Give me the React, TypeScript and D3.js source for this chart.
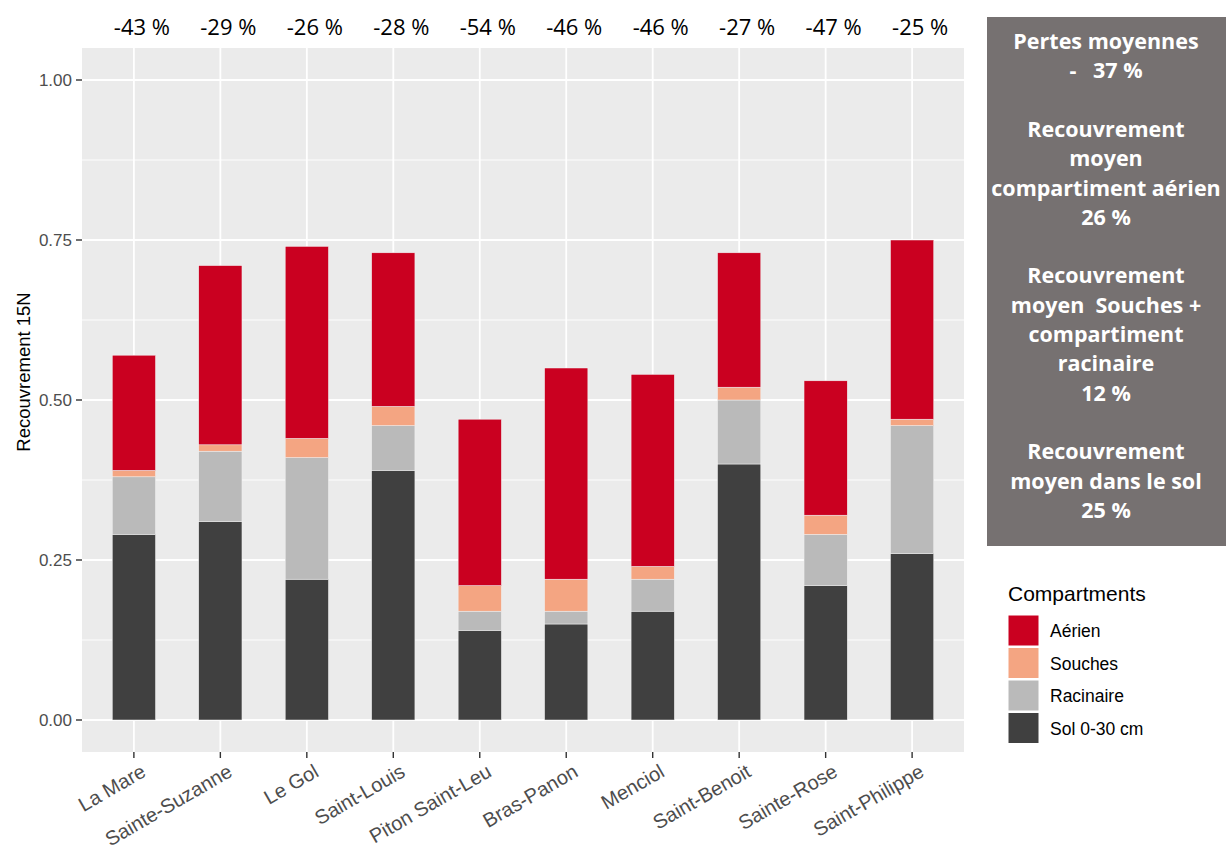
import React from 'react';
import * as d3 from 'd3';

// Sites (x categories)
const sites = [
  'La Mare', 'Sainte-Suzanne', 'Le Gol', 'Saint-Louis', 'Piton Saint-Leu',
  'Bras-Panon', 'Menciol', 'Saint-Benoit', 'Sainte-Rose', 'Saint-Philippe',
];

// Recouvrement 15N per compartment
const sol = [0.29, 0.31, 0.22, 0.39, 0.14, 0.15, 0.17, 0.40, 0.21, 0.26];
const racinaire = [0.09, 0.11, 0.19, 0.07, 0.03, 0.02, 0.05, 0.10, 0.08, 0.20];
const souches = [0.01, 0.01, 0.03, 0.03, 0.04, 0.05, 0.02, 0.02, 0.03, 0.01];
const aerien = [0.18, 0.28, 0.30, 0.24, 0.26, 0.33, 0.30, 0.21, 0.21, 0.28];

// losses printed above each bar (%)
const losses = [-43, -29, -26, -28, -54, -46, -46, -27, -47, -25];

const yTicks = [0, 0.25, 0.5, 0.75, 1];
const yMinor = [0.125, 0.375, 0.625, 0.875];

const keys = ['sol', 'racinaire', 'souches', 'aerien'];
const legendItems = [
  { key: 'aerien', label: 'Aérien' },
  { key: 'souches', label: 'Souches' },
  { key: 'racinaire', label: 'Racinaire' },
  { key: 'sol', label: 'Sol 0-30 cm' },
];
const colors: Record<string, string> = {
  aerien: '#CA0020',
  souches: '#F4A582',
  racinaire: '#BABABA',
  sol: '#404040',
};

// grey summary box
const boxLines = [
  'Pertes moyennes', '-   37 %', '',
  'Recouvrement', 'moyen', 'compartiment aérien', '26 %', '',
  'Recouvrement', 'moyen  Souches +', 'compartiment', 'racinaire', '12 %', '',
  'Recouvrement', 'moyen dans le sol', '25 %',
];

export default function App() {
  const width = 1226;
  const height = 851;
  const panel = { left: 82, right: 964, top: 48, bottom: 752 };

  const rows = sites.map((s, i) => ({
    site: s, sol: sol[i], racinaire: racinaire[i], souches: souches[i], aerien: aerien[i],
  }));
  const series = d3.stack<any>().keys(keys)(rows);

  const x = d3.scalePoint<string>().domain(sites).range([panel.left, panel.right]).padding(0.6);
  const step = x.step();
  const barW = step * 0.5;
  const y = d3.scaleLinear().domain([-0.05, 1.05]).range([panel.bottom, panel.top]);

  const axisText = '#4D4D4D';
  const sans = '"Liberation Sans", Arial, sans-serif';

  return (
    <svg width={width} height={height} style={{ position: 'absolute', left: 0, top: 0, background: '#fff' }}>
      {/* panel */}
      <rect x={panel.left} y={panel.top} width={panel.right - panel.left} height={panel.bottom - panel.top} fill="#EBEBEB" />
      {yMinor.map(v => (
        <line key={'mi' + v} x1={panel.left} x2={panel.right} y1={y(v)} y2={y(v)} stroke="#fff" strokeWidth={0.9} />
      ))}
      {yTicks.map(v => (
        <line key={'ma' + v} x1={panel.left} x2={panel.right} y1={y(v)} y2={y(v)} stroke="#fff" strokeWidth={1.8} />
      ))}
      {sites.map(s => (
        <line key={'vx' + s} x1={x(s)} x2={x(s)} y1={panel.top} y2={panel.bottom} stroke="#fff" strokeWidth={1.8} />
      ))}

      {/* bars */}
      {series.map(layer => (
        <g key={layer.key} fill={colors[layer.key]}>
          {layer.map((d, i) => (
            <rect
              key={i}
              x={(x(sites[i]) as number) - barW / 2}
              y={y(d[1])}
              width={barW}
              height={y(d[0]) - y(d[1])}
              stroke="#f2f2f2"
              strokeWidth={0.5}
            />
          ))}
        </g>
      ))}

      {/* y axis */}
      {yTicks.map(v => (
        <g key={'yt' + v}>
          <line x1={panel.left - 6} x2={panel.left} y1={y(v)} y2={y(v)} stroke="#333" strokeWidth={1.4} />
          <text x={panel.left - 10} y={y(v)} dy="0.36em" textAnchor="end" fontFamily={sans} fontSize={17} fill={axisText}>
            {d3.format('.2f')(v)}
          </text>
        </g>
      ))}
      <text
        transform={`translate(30,${(panel.top + panel.bottom) / 2 - 28}) rotate(-90)`}
        textAnchor="middle"
        fontFamily={sans}
        fontSize={18.5}
        fill="#000"
      >
        Recouvrement 15N
      </text>

      {/* x axis */}
      {sites.map(s => (
        <g key={'xt' + s}>
          <line x1={x(s)} x2={x(s)} y1={panel.bottom} y2={panel.bottom + 6} stroke="#333" strokeWidth={1.4} />
          <text
            transform={`translate(${(x(s) as number) + 6},${panel.bottom + 11}) rotate(-30)`}
            textAnchor="end"
            dy="0.72em"
            fontFamily={sans}
            fontSize={20}
            fill={axisText}
          >
            {s}
          </text>
        </g>
      ))}

      {/* losses above bars */}
      {losses.map((v, i) => (
        <text
          key={'l' + i}
          x={(x(sites[i]) as number) + 8}
          y={35}
          textAnchor="middle"
          fontFamily='"Open Sans", sans-serif'
          fontSize={22}
          fill="#000"
        >
          {`${v} %`}
        </text>
      ))}

      {/* summary box */}
      <rect x={987} y={17} width={width - 987} height={529} fill="#767171" />
      {boxLines.map((t, i) => (
        <text
          key={'b' + i}
          x={1106}
          y={49 + i * 29.3}
          textAnchor="middle"
          fontFamily='"Open Sans", sans-serif'
          fontWeight="bold"
          fontSize={21.5}
          fill="#fff"
          style={{ whiteSpace: 'pre' }}
        >
          {t}
        </text>
      ))}

      {/* legend */}
      <text x={1008} y={601} fontFamily={sans} fontSize={21} fill="#000">Compartments</text>
      {legendItems.map((it, i) => (
        <g key={it.key} transform={`translate(1008,${615 + i * 32.5})`}>
          <rect width={31} height={31} fill={colors[it.key]} stroke="#fff" strokeWidth={1} />
          <text x={42} y={16} dy="0.36em" fontFamily={sans} fontSize={17.5} fill="#000">{it.label}</text>
        </g>
      ))}
    </svg>
  );
}
